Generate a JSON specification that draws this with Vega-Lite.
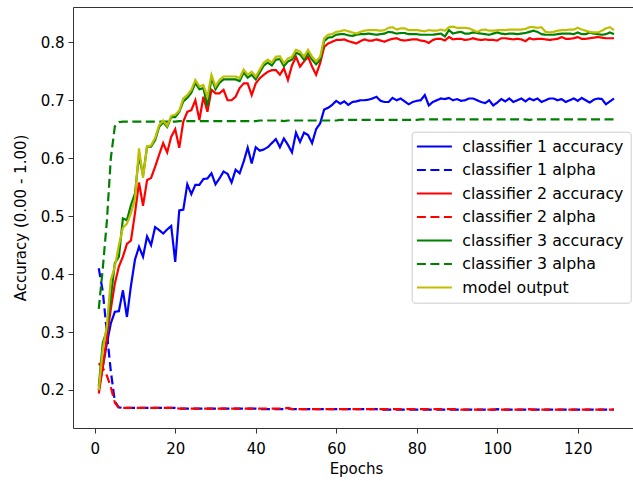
{
  "$schema": "https://vega.github.io/schema/vega-lite/v6.json",
  "width": 560,
  "height": 421,
  "autosize": {"type": "none"},
  "padding": {"left": 73, "top": 7, "right": 0, "bottom": 53},
  "background": "white",
  "config": {
    "view": {"stroke": null},
    "font": "DejaVu Sans",
    "axis": {
      "grid": false,
      "domainColor": "#333",
      "domainWidth": 1,
      "tickColor": "#333",
      "tickSize": 5,
      "labelFontSize": 15,
      "labelColor": "#000",
      "titleFontSize": 15,
      "titleFontWeight": "normal",
      "titleColor": "#000"
    },
    "legend": {
      "orient": "none",
      "legendX": 338.7,
      "legendY": 124.7,
      "fillColor": "rgba(255,255,255,0.8)",
      "strokeColor": "#cccccc",
      "cornerRadius": 3,
      "padding": 7,
      "symbolType": "M-3.5,0H3.5",
      "symbolSize": 100,
      "symbolStrokeWidth": 2,
      "symbolOffset": 7.8,
      "labelFontSize": 15.8,
      "labelColor": "#000",
      "labelOffset": 20,
      "labelLimit": 400,
      "rowPadding": 6.5
    }
  },
  "data": {
    "values": [
      {"epoch":1,"c1_acc":0.200,"c1_alpha":0.410,"c2_acc":0.194,"c2_alpha":0.246,"c3_acc":0.206,"c3_alpha":0.340,"model":0.200},
      {"epoch":2,"c1_acc":0.240,"c1_alpha":0.370,"c2_acc":0.240,"c2_alpha":0.238,"c3_acc":0.281,"c3_alpha":0.410,"model":0.270},
      {"epoch":3,"c1_acc":0.280,"c1_alpha":0.300,"c2_acc":0.290,"c2_alpha":0.225,"c3_acc":0.303,"c3_alpha":0.490,"model":0.310},
      {"epoch":4,"c1_acc":0.315,"c1_alpha":0.232,"c2_acc":0.340,"c2_alpha":0.205,"c3_acc":0.360,"c3_alpha":0.600,"model":0.390},
      {"epoch":5,"c1_acc":0.335,"c1_alpha":0.180,"c2_acc":0.384,"c2_alpha":0.178,"c3_acc":0.419,"c3_alpha":0.655,"model":0.413},
      {"epoch":6,"c1_acc":0.336,"c1_alpha":0.170,"c2_acc":0.413,"c2_alpha":0.169,"c3_acc":0.430,"c3_alpha":0.662,"model":0.450},
      {"epoch":7,"c1_acc":0.372,"c1_alpha":0.169,"c2_acc":0.430,"c2_alpha":0.169,"c3_acc":0.496,"c3_alpha":0.663,"model":0.480},
      {"epoch":8,"c1_acc":0.326,"c1_alpha":0.169,"c2_acc":0.452,"c2_alpha":0.169,"c3_acc":0.493,"c3_alpha":0.663,"model":0.487},
      {"epoch":9,"c1_acc":0.380,"c1_alpha":0.169,"c2_acc":0.458,"c2_alpha":0.169,"c3_acc":0.519,"c3_alpha":0.663,"model":0.505},
      {"epoch":10,"c1_acc":0.425,"c1_alpha":0.169,"c2_acc":0.505,"c2_alpha":0.169,"c3_acc":0.539,"c3_alpha":0.663,"model":0.530},
      {"epoch":11,"c1_acc":0.447,"c1_alpha":0.169,"c2_acc":0.558,"c2_alpha":0.169,"c3_acc":0.605,"c3_alpha":0.663,"model":0.617},
      {"epoch":12,"c1_acc":0.430,"c1_alpha":0.169,"c2_acc":0.518,"c2_alpha":0.169,"c3_acc":0.570,"c3_alpha":0.663,"model":0.566},
      {"epoch":13,"c1_acc":0.465,"c1_alpha":0.169,"c2_acc":0.562,"c2_alpha":0.169,"c3_acc":0.620,"c3_alpha":0.663,"model":0.620},
      {"epoch":14,"c1_acc":0.450,"c1_alpha":0.169,"c2_acc":0.566,"c2_alpha":0.169,"c3_acc":0.620,"c3_alpha":0.663,"model":0.622},
      {"epoch":15,"c1_acc":0.481,"c1_alpha":0.169,"c2_acc":0.585,"c2_alpha":0.169,"c3_acc":0.631,"c3_alpha":0.663,"model":0.635},
      {"epoch":16,"c1_acc":0.476,"c1_alpha":0.169,"c2_acc":0.606,"c2_alpha":0.169,"c3_acc":0.654,"c3_alpha":0.663,"model":0.657},
      {"epoch":17,"c1_acc":0.470,"c1_alpha":0.169,"c2_acc":0.626,"c2_alpha":0.169,"c3_acc":0.662,"c3_alpha":0.663,"model":0.665},
      {"epoch":18,"c1_acc":0.477,"c1_alpha":0.169,"c2_acc":0.610,"c2_alpha":0.169,"c3_acc":0.654,"c3_alpha":0.663,"model":0.656},
      {"epoch":19,"c1_acc":0.483,"c1_alpha":0.169,"c2_acc":0.637,"c2_alpha":0.169,"c3_acc":0.671,"c3_alpha":0.663,"model":0.673},
      {"epoch":20,"c1_acc":0.421,"c1_alpha":0.169,"c2_acc":0.650,"c2_alpha":0.169,"c3_acc":0.671,"c3_alpha":0.663,"model":0.675},
      {"epoch":21,"c1_acc":0.510,"c1_alpha":0.168,"c2_acc":0.618,"c2_alpha":0.168,"c3_acc":0.680,"c3_alpha":0.664,"model":0.682},
      {"epoch":22,"c1_acc":0.511,"c1_alpha":0.168,"c2_acc":0.663,"c2_alpha":0.168,"c3_acc":0.698,"c3_alpha":0.664,"model":0.703},
      {"epoch":23,"c1_acc":0.555,"c1_alpha":0.168,"c2_acc":0.680,"c2_alpha":0.168,"c3_acc":0.704,"c3_alpha":0.664,"model":0.709},
      {"epoch":24,"c1_acc":0.538,"c1_alpha":0.168,"c2_acc":0.683,"c2_alpha":0.168,"c3_acc":0.713,"c3_alpha":0.664,"model":0.718},
      {"epoch":25,"c1_acc":0.554,"c1_alpha":0.168,"c2_acc":0.700,"c2_alpha":0.168,"c3_acc":0.730,"c3_alpha":0.664,"model":0.735},
      {"epoch":26,"c1_acc":0.554,"c1_alpha":0.168,"c2_acc":0.666,"c2_alpha":0.168,"c3_acc":0.719,"c3_alpha":0.664,"model":0.724},
      {"epoch":27,"c1_acc":0.564,"c1_alpha":0.168,"c2_acc":0.706,"c2_alpha":0.168,"c3_acc":0.721,"c3_alpha":0.664,"model":0.726},
      {"epoch":28,"c1_acc":0.565,"c1_alpha":0.168,"c2_acc":0.680,"c2_alpha":0.168,"c3_acc":0.690,"c3_alpha":0.664,"model":0.706},
      {"epoch":29,"c1_acc":0.574,"c1_alpha":0.168,"c2_acc":0.718,"c2_alpha":0.168,"c3_acc":0.739,"c3_alpha":0.664,"model":0.744},
      {"epoch":30,"c1_acc":0.555,"c1_alpha":0.168,"c2_acc":0.712,"c2_alpha":0.168,"c3_acc":0.719,"c3_alpha":0.664,"model":0.724},
      {"epoch":31,"c1_acc":0.565,"c1_alpha":0.168,"c2_acc":0.712,"c2_alpha":0.168,"c3_acc":0.730,"c3_alpha":0.664,"model":0.735},
      {"epoch":32,"c1_acc":0.577,"c1_alpha":0.168,"c2_acc":0.718,"c2_alpha":0.168,"c3_acc":0.736,"c3_alpha":0.664,"model":0.741},
      {"epoch":33,"c1_acc":0.573,"c1_alpha":0.168,"c2_acc":0.700,"c2_alpha":0.168,"c3_acc":0.736,"c3_alpha":0.664,"model":0.741},
      {"epoch":34,"c1_acc":0.558,"c1_alpha":0.168,"c2_acc":0.700,"c2_alpha":0.168,"c3_acc":0.736,"c3_alpha":0.664,"model":0.741},
      {"epoch":35,"c1_acc":0.580,"c1_alpha":0.168,"c2_acc":0.706,"c2_alpha":0.168,"c3_acc":0.736,"c3_alpha":0.664,"model":0.741},
      {"epoch":36,"c1_acc":0.574,"c1_alpha":0.168,"c2_acc":0.721,"c2_alpha":0.168,"c3_acc":0.733,"c3_alpha":0.664,"model":0.738},
      {"epoch":37,"c1_acc":0.594,"c1_alpha":0.168,"c2_acc":0.729,"c2_alpha":0.168,"c3_acc":0.748,"c3_alpha":0.664,"model":0.753},
      {"epoch":38,"c1_acc":0.618,"c1_alpha":0.168,"c2_acc":0.729,"c2_alpha":0.168,"c3_acc":0.739,"c3_alpha":0.664,"model":0.744},
      {"epoch":39,"c1_acc":0.591,"c1_alpha":0.168,"c2_acc":0.709,"c2_alpha":0.168,"c3_acc":0.744,"c3_alpha":0.664,"model":0.749},
      {"epoch":40,"c1_acc":0.619,"c1_alpha":0.168,"c2_acc":0.729,"c2_alpha":0.168,"c3_acc":0.736,"c3_alpha":0.664,"model":0.741},
      {"epoch":41,"c1_acc":0.613,"c1_alpha":0.167,"c2_acc":0.738,"c2_alpha":0.168,"c3_acc":0.748,"c3_alpha":0.665,"model":0.753},
      {"epoch":42,"c1_acc":0.615,"c1_alpha":0.167,"c2_acc":0.744,"c2_alpha":0.168,"c3_acc":0.760,"c3_alpha":0.665,"model":0.765},
      {"epoch":43,"c1_acc":0.619,"c1_alpha":0.167,"c2_acc":0.749,"c2_alpha":0.168,"c3_acc":0.765,"c3_alpha":0.665,"model":0.770},
      {"epoch":44,"c1_acc":0.626,"c1_alpha":0.167,"c2_acc":0.752,"c2_alpha":0.168,"c3_acc":0.760,"c3_alpha":0.665,"model":0.765},
      {"epoch":45,"c1_acc":0.633,"c1_alpha":0.167,"c2_acc":0.752,"c2_alpha":0.168,"c3_acc":0.770,"c3_alpha":0.665,"model":0.775},
      {"epoch":46,"c1_acc":0.619,"c1_alpha":0.167,"c2_acc":0.744,"c2_alpha":0.168,"c3_acc":0.771,"c3_alpha":0.665,"model":0.776},
      {"epoch":47,"c1_acc":0.634,"c1_alpha":0.167,"c2_acc":0.755,"c2_alpha":0.168,"c3_acc":0.759,"c3_alpha":0.664,"model":0.764},
      {"epoch":48,"c1_acc":0.623,"c1_alpha":0.168,"c2_acc":0.735,"c2_alpha":0.169,"c3_acc":0.767,"c3_alpha":0.665,"model":0.772},
      {"epoch":49,"c1_acc":0.610,"c1_alpha":0.167,"c2_acc":0.760,"c2_alpha":0.167,"c3_acc":0.770,"c3_alpha":0.665,"model":0.775},
      {"epoch":50,"c1_acc":0.644,"c1_alpha":0.167,"c2_acc":0.775,"c2_alpha":0.167,"c3_acc":0.782,"c3_alpha":0.665,"model":0.787},
      {"epoch":51,"c1_acc":0.628,"c1_alpha":0.167,"c2_acc":0.758,"c2_alpha":0.167,"c3_acc":0.779,"c3_alpha":0.665,"model":0.784},
      {"epoch":52,"c1_acc":0.644,"c1_alpha":0.167,"c2_acc":0.767,"c2_alpha":0.167,"c3_acc":0.770,"c3_alpha":0.665,"model":0.775},
      {"epoch":53,"c1_acc":0.640,"c1_alpha":0.167,"c2_acc":0.775,"c2_alpha":0.167,"c3_acc":0.782,"c3_alpha":0.665,"model":0.787},
      {"epoch":54,"c1_acc":0.626,"c1_alpha":0.167,"c2_acc":0.758,"c2_alpha":0.167,"c3_acc":0.770,"c3_alpha":0.665,"model":0.775},
      {"epoch":55,"c1_acc":0.650,"c1_alpha":0.167,"c2_acc":0.744,"c2_alpha":0.167,"c3_acc":0.762,"c3_alpha":0.665,"model":0.767},
      {"epoch":56,"c1_acc":0.660,"c1_alpha":0.167,"c2_acc":0.764,"c2_alpha":0.167,"c3_acc":0.770,"c3_alpha":0.665,"model":0.775},
      {"epoch":57,"c1_acc":0.684,"c1_alpha":0.167,"c2_acc":0.792,"c2_alpha":0.167,"c3_acc":0.802,"c3_alpha":0.665,"model":0.807},
      {"epoch":58,"c1_acc":0.687,"c1_alpha":0.167,"c2_acc":0.798,"c2_alpha":0.167,"c3_acc":0.808,"c3_alpha":0.665,"model":0.813},
      {"epoch":59,"c1_acc":0.692,"c1_alpha":0.167,"c2_acc":0.801,"c2_alpha":0.167,"c3_acc":0.809,"c3_alpha":0.665,"model":0.814},
      {"epoch":60,"c1_acc":0.699,"c1_alpha":0.167,"c2_acc":0.804,"c2_alpha":0.167,"c3_acc":0.813,"c3_alpha":0.665,"model":0.818},
      {"epoch":61,"c1_acc":0.694,"c1_alpha":0.167,"c2_acc":0.804,"c2_alpha":0.167,"c3_acc":0.814,"c3_alpha":0.666,"model":0.819},
      {"epoch":62,"c1_acc":0.698,"c1_alpha":0.167,"c2_acc":0.805,"c2_alpha":0.167,"c3_acc":0.814,"c3_alpha":0.666,"model":0.821},
      {"epoch":63,"c1_acc":0.692,"c1_alpha":0.167,"c2_acc":0.802,"c2_alpha":0.167,"c3_acc":0.812,"c3_alpha":0.666,"model":0.819},
      {"epoch":64,"c1_acc":0.697,"c1_alpha":0.167,"c2_acc":0.800,"c2_alpha":0.167,"c3_acc":0.811,"c3_alpha":0.666,"model":0.817},
      {"epoch":65,"c1_acc":0.698,"c1_alpha":0.167,"c2_acc":0.798,"c2_alpha":0.167,"c3_acc":0.813,"c3_alpha":0.666,"model":0.815},
      {"epoch":66,"c1_acc":0.700,"c1_alpha":0.167,"c2_acc":0.802,"c2_alpha":0.167,"c3_acc":0.814,"c3_alpha":0.666,"model":0.818},
      {"epoch":67,"c1_acc":0.700,"c1_alpha":0.167,"c2_acc":0.805,"c2_alpha":0.167,"c3_acc":0.814,"c3_alpha":0.666,"model":0.820},
      {"epoch":68,"c1_acc":0.701,"c1_alpha":0.167,"c2_acc":0.803,"c2_alpha":0.167,"c3_acc":0.815,"c3_alpha":0.666,"model":0.821},
      {"epoch":69,"c1_acc":0.703,"c1_alpha":0.167,"c2_acc":0.803,"c2_alpha":0.167,"c3_acc":0.814,"c3_alpha":0.666,"model":0.821},
      {"epoch":70,"c1_acc":0.706,"c1_alpha":0.167,"c2_acc":0.805,"c2_alpha":0.167,"c3_acc":0.813,"c3_alpha":0.666,"model":0.821},
      {"epoch":71,"c1_acc":0.699,"c1_alpha":0.166,"c2_acc":0.803,"c2_alpha":0.167,"c3_acc":0.814,"c3_alpha":0.666,"model":0.820},
      {"epoch":72,"c1_acc":0.697,"c1_alpha":0.166,"c2_acc":0.801,"c2_alpha":0.167,"c3_acc":0.815,"c3_alpha":0.666,"model":0.821},
      {"epoch":73,"c1_acc":0.697,"c1_alpha":0.166,"c2_acc":0.804,"c2_alpha":0.167,"c3_acc":0.818,"c3_alpha":0.666,"model":0.825},
      {"epoch":74,"c1_acc":0.704,"c1_alpha":0.166,"c2_acc":0.806,"c2_alpha":0.167,"c3_acc":0.817,"c3_alpha":0.666,"model":0.826},
      {"epoch":75,"c1_acc":0.700,"c1_alpha":0.166,"c2_acc":0.807,"c2_alpha":0.167,"c3_acc":0.815,"c3_alpha":0.666,"model":0.822},
      {"epoch":76,"c1_acc":0.703,"c1_alpha":0.166,"c2_acc":0.804,"c2_alpha":0.167,"c3_acc":0.816,"c3_alpha":0.666,"model":0.824},
      {"epoch":77,"c1_acc":0.698,"c1_alpha":0.166,"c2_acc":0.803,"c2_alpha":0.167,"c3_acc":0.816,"c3_alpha":0.666,"model":0.824},
      {"epoch":78,"c1_acc":0.693,"c1_alpha":0.166,"c2_acc":0.804,"c2_alpha":0.167,"c3_acc":0.814,"c3_alpha":0.666,"model":0.821},
      {"epoch":79,"c1_acc":0.697,"c1_alpha":0.166,"c2_acc":0.805,"c2_alpha":0.167,"c3_acc":0.814,"c3_alpha":0.666,"model":0.821},
      {"epoch":80,"c1_acc":0.699,"c1_alpha":0.166,"c2_acc":0.805,"c2_alpha":0.167,"c3_acc":0.814,"c3_alpha":0.666,"model":0.821},
      {"epoch":81,"c1_acc":0.700,"c1_alpha":0.166,"c2_acc":0.803,"c2_alpha":0.167,"c3_acc":0.813,"c3_alpha":0.667,"model":0.820},
      {"epoch":82,"c1_acc":0.709,"c1_alpha":0.166,"c2_acc":0.802,"c2_alpha":0.167,"c3_acc":0.813,"c3_alpha":0.667,"model":0.819},
      {"epoch":83,"c1_acc":0.691,"c1_alpha":0.166,"c2_acc":0.799,"c2_alpha":0.167,"c3_acc":0.813,"c3_alpha":0.667,"model":0.821},
      {"epoch":84,"c1_acc":0.697,"c1_alpha":0.166,"c2_acc":0.804,"c2_alpha":0.167,"c3_acc":0.813,"c3_alpha":0.667,"model":0.820},
      {"epoch":85,"c1_acc":0.700,"c1_alpha":0.166,"c2_acc":0.806,"c2_alpha":0.167,"c3_acc":0.814,"c3_alpha":0.667,"model":0.820},
      {"epoch":86,"c1_acc":0.703,"c1_alpha":0.166,"c2_acc":0.806,"c2_alpha":0.167,"c3_acc":0.815,"c3_alpha":0.667,"model":0.822},
      {"epoch":87,"c1_acc":0.702,"c1_alpha":0.166,"c2_acc":0.803,"c2_alpha":0.167,"c3_acc":0.810,"c3_alpha":0.667,"model":0.820},
      {"epoch":88,"c1_acc":0.704,"c1_alpha":0.166,"c2_acc":0.809,"c2_alpha":0.167,"c3_acc":0.821,"c3_alpha":0.667,"model":0.826},
      {"epoch":89,"c1_acc":0.700,"c1_alpha":0.166,"c2_acc":0.805,"c2_alpha":0.167,"c3_acc":0.815,"c3_alpha":0.667,"model":0.827},
      {"epoch":90,"c1_acc":0.702,"c1_alpha":0.166,"c2_acc":0.806,"c2_alpha":0.167,"c3_acc":0.817,"c3_alpha":0.667,"model":0.825},
      {"epoch":91,"c1_acc":0.699,"c1_alpha":0.166,"c2_acc":0.806,"c2_alpha":0.166,"c3_acc":0.818,"c3_alpha":0.667,"model":0.825},
      {"epoch":92,"c1_acc":0.700,"c1_alpha":0.166,"c2_acc":0.804,"c2_alpha":0.166,"c3_acc":0.815,"c3_alpha":0.667,"model":0.825},
      {"epoch":93,"c1_acc":0.703,"c1_alpha":0.166,"c2_acc":0.805,"c2_alpha":0.166,"c3_acc":0.815,"c3_alpha":0.667,"model":0.824},
      {"epoch":94,"c1_acc":0.703,"c1_alpha":0.166,"c2_acc":0.807,"c2_alpha":0.166,"c3_acc":0.817,"c3_alpha":0.667,"model":0.821},
      {"epoch":95,"c1_acc":0.700,"c1_alpha":0.166,"c2_acc":0.805,"c2_alpha":0.166,"c3_acc":0.816,"c3_alpha":0.667,"model":0.818},
      {"epoch":96,"c1_acc":0.697,"c1_alpha":0.166,"c2_acc":0.804,"c2_alpha":0.166,"c3_acc":0.815,"c3_alpha":0.667,"model":0.821},
      {"epoch":97,"c1_acc":0.695,"c1_alpha":0.166,"c2_acc":0.805,"c2_alpha":0.166,"c3_acc":0.814,"c3_alpha":0.667,"model":0.822},
      {"epoch":98,"c1_acc":0.700,"c1_alpha":0.166,"c2_acc":0.804,"c2_alpha":0.166,"c3_acc":0.813,"c3_alpha":0.667,"model":0.820},
      {"epoch":99,"c1_acc":0.691,"c1_alpha":0.166,"c2_acc":0.804,"c2_alpha":0.166,"c3_acc":0.815,"c3_alpha":0.667,"model":0.820},
      {"epoch":100,"c1_acc":0.696,"c1_alpha":0.167,"c2_acc":0.803,"c2_alpha":0.166,"c3_acc":0.817,"c3_alpha":0.667,"model":0.821},
      {"epoch":101,"c1_acc":0.702,"c1_alpha":0.166,"c2_acc":0.807,"c2_alpha":0.166,"c3_acc":0.815,"c3_alpha":0.667,"model":0.821},
      {"epoch":102,"c1_acc":0.698,"c1_alpha":0.166,"c2_acc":0.807,"c2_alpha":0.166,"c3_acc":0.814,"c3_alpha":0.667,"model":0.821},
      {"epoch":103,"c1_acc":0.703,"c1_alpha":0.166,"c2_acc":0.806,"c2_alpha":0.166,"c3_acc":0.815,"c3_alpha":0.667,"model":0.822},
      {"epoch":104,"c1_acc":0.697,"c1_alpha":0.166,"c2_acc":0.805,"c2_alpha":0.166,"c3_acc":0.815,"c3_alpha":0.667,"model":0.822},
      {"epoch":105,"c1_acc":0.700,"c1_alpha":0.166,"c2_acc":0.806,"c2_alpha":0.166,"c3_acc":0.814,"c3_alpha":0.667,"model":0.822},
      {"epoch":106,"c1_acc":0.703,"c1_alpha":0.166,"c2_acc":0.805,"c2_alpha":0.166,"c3_acc":0.815,"c3_alpha":0.667,"model":0.822},
      {"epoch":107,"c1_acc":0.698,"c1_alpha":0.166,"c2_acc":0.802,"c2_alpha":0.166,"c3_acc":0.816,"c3_alpha":0.667,"model":0.823},
      {"epoch":108,"c1_acc":0.703,"c1_alpha":0.166,"c2_acc":0.807,"c2_alpha":0.167,"c3_acc":0.818,"c3_alpha":0.666,"model":0.826},
      {"epoch":109,"c1_acc":0.700,"c1_alpha":0.166,"c2_acc":0.805,"c2_alpha":0.166,"c3_acc":0.820,"c3_alpha":0.667,"model":0.826},
      {"epoch":110,"c1_acc":0.703,"c1_alpha":0.166,"c2_acc":0.806,"c2_alpha":0.166,"c3_acc":0.818,"c3_alpha":0.667,"model":0.825},
      {"epoch":111,"c1_acc":0.697,"c1_alpha":0.166,"c2_acc":0.806,"c2_alpha":0.166,"c3_acc":0.814,"c3_alpha":0.667,"model":0.826},
      {"epoch":112,"c1_acc":0.700,"c1_alpha":0.166,"c2_acc":0.805,"c2_alpha":0.166,"c3_acc":0.813,"c3_alpha":0.667,"model":0.818},
      {"epoch":113,"c1_acc":0.703,"c1_alpha":0.166,"c2_acc":0.804,"c2_alpha":0.166,"c3_acc":0.813,"c3_alpha":0.667,"model":0.817},
      {"epoch":114,"c1_acc":0.703,"c1_alpha":0.166,"c2_acc":0.805,"c2_alpha":0.166,"c3_acc":0.813,"c3_alpha":0.667,"model":0.818},
      {"epoch":115,"c1_acc":0.700,"c1_alpha":0.166,"c2_acc":0.806,"c2_alpha":0.166,"c3_acc":0.814,"c3_alpha":0.667,"model":0.820},
      {"epoch":116,"c1_acc":0.702,"c1_alpha":0.166,"c2_acc":0.809,"c2_alpha":0.166,"c3_acc":0.815,"c3_alpha":0.667,"model":0.821},
      {"epoch":117,"c1_acc":0.697,"c1_alpha":0.166,"c2_acc":0.806,"c2_alpha":0.166,"c3_acc":0.815,"c3_alpha":0.667,"model":0.821},
      {"epoch":118,"c1_acc":0.700,"c1_alpha":0.166,"c2_acc":0.806,"c2_alpha":0.166,"c3_acc":0.815,"c3_alpha":0.667,"model":0.822},
      {"epoch":119,"c1_acc":0.703,"c1_alpha":0.166,"c2_acc":0.807,"c2_alpha":0.166,"c3_acc":0.814,"c3_alpha":0.667,"model":0.822},
      {"epoch":120,"c1_acc":0.699,"c1_alpha":0.166,"c2_acc":0.809,"c2_alpha":0.166,"c3_acc":0.817,"c3_alpha":0.667,"model":0.825},
      {"epoch":121,"c1_acc":0.704,"c1_alpha":0.166,"c2_acc":0.806,"c2_alpha":0.166,"c3_acc":0.814,"c3_alpha":0.667,"model":0.822},
      {"epoch":122,"c1_acc":0.700,"c1_alpha":0.166,"c2_acc":0.806,"c2_alpha":0.166,"c3_acc":0.814,"c3_alpha":0.667,"model":0.820},
      {"epoch":123,"c1_acc":0.696,"c1_alpha":0.166,"c2_acc":0.807,"c2_alpha":0.166,"c3_acc":0.817,"c3_alpha":0.667,"model":0.818},
      {"epoch":124,"c1_acc":0.701,"c1_alpha":0.166,"c2_acc":0.808,"c2_alpha":0.166,"c3_acc":0.815,"c3_alpha":0.667,"model":0.817},
      {"epoch":125,"c1_acc":0.703,"c1_alpha":0.166,"c2_acc":0.809,"c2_alpha":0.166,"c3_acc":0.814,"c3_alpha":0.667,"model":0.817},
      {"epoch":126,"c1_acc":0.702,"c1_alpha":0.166,"c2_acc":0.808,"c2_alpha":0.166,"c3_acc":0.813,"c3_alpha":0.667,"model":0.820},
      {"epoch":127,"c1_acc":0.693,"c1_alpha":0.166,"c2_acc":0.807,"c2_alpha":0.166,"c3_acc":0.814,"c3_alpha":0.667,"model":0.824},
      {"epoch":128,"c1_acc":0.698,"c1_alpha":0.166,"c2_acc":0.807,"c2_alpha":0.166,"c3_acc":0.817,"c3_alpha":0.667,"model":0.826},
      {"epoch":129,"c1_acc":0.703,"c1_alpha":0.166,"c2_acc":0.807,"c2_alpha":0.166,"c3_acc":0.814,"c3_alpha":0.667,"model":0.821}
    ]
  },
  "transform": [
    {"fold": ["c1_acc", "c1_alpha", "c2_acc", "c2_alpha", "c3_acc", "c3_alpha", "model"], "as": ["series", "accuracy"]}
  ],
  "layer": [
    {
      "mark": {"type": "line", "strokeWidth": 2.2, "strokeCap": "butt"},
      "encoding": {
        "x": {
          "field": "epoch",
          "type": "quantitative",
          "scale": {"domain": [-5.4, 133.73], "nice": false, "zero": false},
          "axis": {
            "orient": "bottom",
            "values": [0, 20, 40, 60, 80, 100, 120],
            "labelPadding": 8,
            "labelFlush": false,
            "title": "Epochs",
            "titleX": 283,
            "titleY": 40,
            "titleBaseline": "middle",
            "titleAlign": "center"
          }
        },
        "y": {
          "field": "accuracy",
          "type": "quantitative",
          "scale": {"domain": [0.1344, 0.8609], "nice": false, "zero": false},
          "axis": {
            "orient": "left",
            "values": [0.2, 0.3, 0.4, 0.5, 0.6, 0.7, 0.8],
            "format": ".1f",
            "labelPadding": 4,
            "title": "Accuracy (0.00 - 1.00)",
            "titleAngle": 270,
            "titleX": -53,
            "titleY": 210.5,
            "titleBaseline": "middle",
            "titleAlign": "center"
          }
        },
        "color": {
          "field": "series",
          "type": "nominal",
          "scale": {
            "domain": ["c1_acc", "c1_alpha", "c2_acc", "c2_alpha", "c3_acc", "c3_alpha", "model"],
            "range": ["#0000ff", "#0000ff", "#ff0000", "#ff0000", "#008000", "#008000", "#bfbf00"]
          },
          "legend": {
            "title": null,
            "symbolType": "M-3.5,0H3.5",
            "symbolSize": 100,
            "labelExpr": "{'c1_acc':'classifier 1 accuracy','c1_alpha':'classifier 1 alpha','c2_acc':'classifier 2 accuracy','c2_alpha':'classifier 2 alpha','c3_acc':'classifier 3 accuracy','c3_alpha':'classifier 3 alpha','model':'model output'}[datum.label]"
          }
        },
        "strokeDash": {
          "field": "series",
          "type": "nominal",
          "scale": {
            "domain": ["c1_acc", "c1_alpha", "c2_acc", "c2_alpha", "c3_acc", "c3_alpha", "model"],
            "range": [[1, 0], [9, 4.5], [1, 0], [9, 4.5], [1, 0], [9, 4.5], [1, 0]]
          },
          "legend": {
            "title": null,
            "symbolType": "M-3.5,0H3.5",
            "symbolSize": 100,
            "labelExpr": "{'c1_acc':'classifier 1 accuracy','c1_alpha':'classifier 1 alpha','c2_acc':'classifier 2 accuracy','c2_alpha':'classifier 2 alpha','c3_acc':'classifier 3 accuracy','c3_alpha':'classifier 3 alpha','model':'model output'}[datum.label]"
          }
        }
      }
    },
    {
      "mark": {"type": "point", "opacity": 0},
      "encoding": {
        "x": {
          "field": "epoch",
          "type": "quantitative",
          "axis": {"orient": "top", "labels": false, "ticks": false, "title": null}
        },
        "y": {
          "field": "accuracy",
          "type": "quantitative",
          "axis": {
            "orient": "left",
            "values": [0.2, 0.3, 0.4, 0.5, 0.6, 0.7, 0.8],
            "format": ".1f",
            "labelPadding": 4,
            "title": "Accuracy (0.00 - 1.00)",
            "titleAngle": 270,
            "titleX": -53,
            "titleY": 210.5,
            "titleBaseline": "middle",
            "titleAlign": "center"
          }
        }
      }
    }
  ],
  "resolve": {"axis": {"x": "independent"}}
}
